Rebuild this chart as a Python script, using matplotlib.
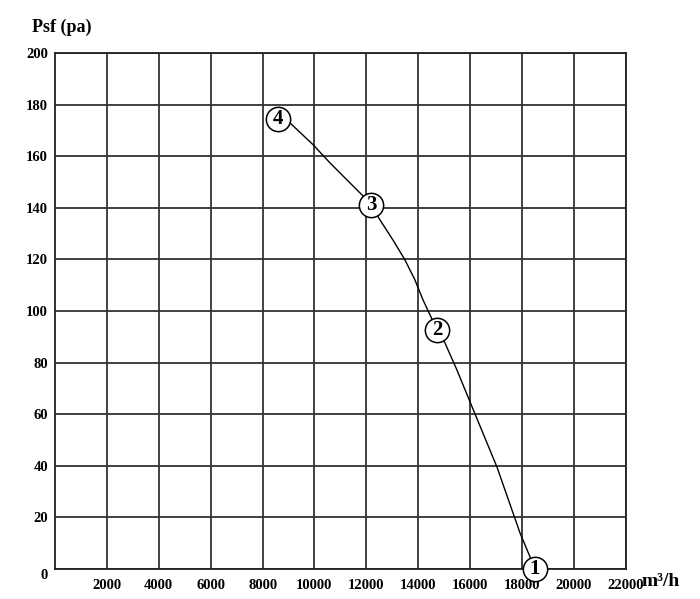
import matplotlib
matplotlib.use("Agg")
import matplotlib.pyplot as plt

# curve (flow m3/h, static pressure pa)
curve_flow = [8594, 9057, 9943, 10599, 11254, 11832, 12179, 12526, 13027, 13489,
              13874, 14183, 14491, 14722, 15031, 15493, 15917, 17035, 17921, 18307, 18420]
curve_psf = [174.4, 172.9, 164.5, 157.4, 150.8, 145.0, 141.1, 135.3, 127.5, 119.8,
             112.0, 104.3, 97.7, 92.6, 87.6, 77.1, 66.7, 39.5, 14.0, 4.7, 0.0]

# numbered operating points
point_labels = ["1", "2", "3", "4"]
point_flow = [18500, 14722, 12179, 8594]
point_psf = [0.0, 92.6, 141.1, 174.4]

x_ticks = [2000, 4000, 6000, 8000, 10000, 12000, 14000, 16000, 18000, 20000, 22000]
y_ticks = [0, 20, 40, 60, 80, 100, 120, 140, 160, 180, 200]

serif = "Liberation Serif"

fig = plt.figure(figsize=(7, 5.99), dpi=100)
ax = fig.add_axes([0.0786, 0.0501, 0.8154, 0.8614])

ax.set_xlim(0, 22000)
ax.set_ylim(0, 200)
ax.set_xticks(x_ticks)
ax.set_yticks(y_ticks)
ax.grid(True, color="#333333", linewidth=1.3)
ax.set_axisbelow(True)
for s in ax.spines.values():
    s.set_color("#222222")
    s.set_linewidth(1.3)
ax.tick_params(length=0, pad=5)
for lab in ax.get_xticklabels() + ax.get_yticklabels():
    lab.set_fontfamily(serif)
    lab.set_fontweight("bold")
    lab.set_fontsize(10.5)
ax.tick_params(axis="x", pad=7)
ax.get_yticklabels()[0].set_verticalalignment("top")

ax.plot(curve_flow, curve_psf, color="black", linewidth=1.0, zorder=3)

for lab, fx, py in zip(point_labels, point_flow, point_psf):
    ax.plot(fx, py, marker="o", markersize=17.5, markerfacecolor="white",
            markeredgecolor="black", markeredgewidth=1.1, clip_on=False, zorder=4)
    ax.text(fx, py, lab, ha="center", va="center", fontsize=15,
            fontfamily=serif, fontweight="bold", zorder=5)

fig.text(32 / 700, 1 - 27 / 599, "Psf (pa)", fontsize=13, fontfamily=serif,
         fontweight="bold", ha="left", va="center")
fig.text(641 / 700, 1 - 582 / 599, "m³/h", fontsize=14, fontfamily=serif,
         fontweight="bold", ha="left", va="center")

fig.savefig("out.png", dpi=100)
